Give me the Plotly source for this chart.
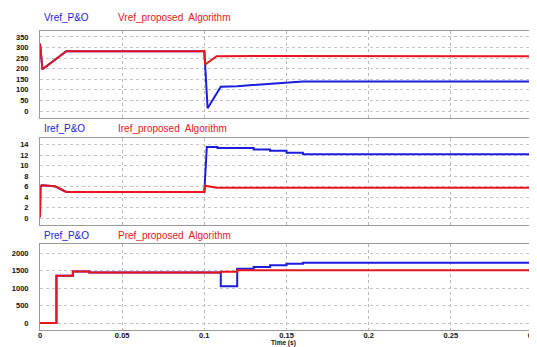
import plotly.graph_objects as go

# ---------------- data ----------------
# Panel 1: Vref
vref_prop_t = [0, 0.0015, 0.016, 0.1, 0.1005, 0.1075, 0.14, 0.3]
vref_prop_v = [318, 197, 282, 282, 220, 259, 260, 259]
vref_po_t = [0, 0.0015, 0.016, 0.1, 0.102, 0.11, 0.12, 0.13, 0.14, 0.15, 0.155, 0.16, 0.3]
vref_po_v = [318, 197, 282, 282, 13, 115, 117, 122, 128, 133, 138, 140, 140]

# Panel 2: Iref
iref_prop_t = [0, 0.0003, 0.001, 0.009, 0.016, 0.1, 0.1005, 0.1075, 0.3]
iref_prop_v = [0.2, 6.0, 6.3, 6.1, 5.0, 5.0, 6.2, 5.8, 5.8]
iref_po_t = [0, 0.0003, 0.001, 0.009, 0.016, 0.1, 0.1015, 0.108, 0.108, 0.13, 0.13,
             0.14, 0.14, 0.15, 0.15, 0.16, 0.16, 0.3]
iref_po_v = [0.2, 6.0, 6.3, 6.1, 5.0, 5.0, 13.6, 13.6, 13.4, 13.4, 13.1,
             13.1, 12.85, 12.85, 12.5, 12.5, 12.2, 12.2]

# Panel 3: Pref (step signals)
pref_prop_t = [0, 0.01, 0.02, 0.03, 0.11, 0.12, 0.3]
pref_prop_v = [0, 1350, 1470, 1440, 1465, 1505, 1505]
pref_po_t = [0, 0.01, 0.02, 0.03, 0.11, 0.12, 0.13, 0.14, 0.15, 0.16, 0.3]
pref_po_v = [0, 1350, 1470, 1440, 1050, 1550, 1600, 1650, 1690, 1720, 1720]

x_ticks = [0, 0.05, 0.1, 0.15, 0.2, 0.25, 0.3]
x_ticklabels = ["0", "0.05", "0.1", "0.15", "0.2", "0.25", "0.3"]
v_ticks = [0, 50, 100, 150, 200, 250, 300, 350]
i_ticks = [0, 2, 4, 6, 8, 10, 12, 14]
p_ticks = [0, 500, 1000, 1500, 2000]

titles = [("Vref_P&O", "Vref_proposed  Algorithm"),
          ("Iref_P&O", "Iref_proposed  Algorithm"),
          ("Pref_P&O", "Pref_proposed  Algorithm")]

# ---------------- style ----------------
BLUE = "#1c1ce0"
RED = "#e8161c"
W, H = 537, 347
OFF = 8  # page body margin offset

def px(pix):
    return (pix - OFF) / W

def py(pix):
    return 1 - (pix - OFF) / H

x_dom = [px(40), px(533)]
panels = [  # (top px, bottom px) in reference pixels
    (31, 118), (138, 225), (244, 330)]
y_ranges = [[-33, 378], [-1.3, 15.3], [-200, 2257]]
y_ticks = [v_ticks, i_ticks, p_ticks]
title_y = [17, 128, 235]

fig = go.Figure()
series = [
    (vref_po_t, vref_po_v, vref_prop_t, vref_prop_v, "linear"),
    (iref_po_t, iref_po_v, iref_prop_t, iref_prop_v, "linear"),
    (pref_po_t, pref_po_v, pref_prop_t, pref_prop_v, "hv"),
]
for k, (bt, bv, rt, rv, shape) in enumerate(series):
    xa = "x" if k == 0 else f"x{k+1}"
    ya = "y" if k == 0 else f"y{k+1}"
    fig.add_trace(go.Scatter(x=bt, y=bv, mode="lines", line=dict(color=BLUE, width=2, shape=shape),
                             xaxis=xa, yaxis=ya, showlegend=False))
    fig.add_trace(go.Scatter(x=rt, y=rv, mode="lines", line=dict(color=RED, width=2, shape=shape),
                             xaxis=xa, yaxis=ya, showlegend=False))

tickfont = dict(family="Liberation Sans, Arial", size=7.5, color="#111111", weight="bold")
layout = dict(width=W, height=H, margin=dict(l=0, r=0, t=0, b=0, autoexpand=False),
              paper_bgcolor="white", plot_bgcolor="white", showlegend=False)
for k in range(3):
    top, bot = panels[k]
    xkey = "xaxis" if k == 0 else f"xaxis{k+1}"
    ykey = "yaxis" if k == 0 else f"yaxis{k+1}"
    ya = "y" if k == 0 else f"y{k+1}"
    layout[xkey] = dict(domain=x_dom, range=[0, 0.3], anchor=ya,
                        tickvals=x_ticks, ticktext=x_ticklabels,
                        showticklabels=(k == 2), tickfont=tickfont,
                        showgrid=True, gridcolor="#b8b8b8", griddash="dot", gridwidth=1,
                        showline=True, linecolor="#9a9a9a", linewidth=1, mirror=True,
                        zeroline=False, ticks="", ticklabelstandoff=-2, automargin=False,
                        **({} if k == 0 else {"matches": "x"}))
    layout[ykey] = dict(domain=[py(bot), py(top)], range=y_ranges[k], anchor="x" if k == 0 else f"x{k+1}",
                        tickvals=y_ticks[k], tickfont=tickfont,
                        showgrid=True, gridcolor="#c4c4c4", griddash="dot", gridwidth=1,
                        showline=True, linecolor="#9a9a9a", linewidth=1, mirror=True,
                        zeroline=False, ticks="", ticklabelstandoff=9, automargin=False)
fig.update_layout(**layout)

tfont = dict(family="Liberation Sans, Arial", size=10)
for k, (a, b) in enumerate(titles):
    fig.add_annotation(x=px(42), y=py(title_y[k]), xref="paper", yref="paper", text=a,
                       showarrow=False, xanchor="left", yanchor="middle",
                       font=dict(color=BLUE, **tfont))
    fig.add_annotation(x=px(116), y=py(title_y[k]), xref="paper", yref="paper", text=b,
                       showarrow=False, xanchor="left", yanchor="middle",
                       font=dict(color=RED, **tfont))

fig.add_annotation(x=px(283), y=py(348), xref="paper", yref="paper", text="Time (s)",
                   showarrow=False, xanchor="center", yanchor="bottom", borderpad=0,
                   font=dict(family="Liberation Sans, Arial", size=6.5, color="#111111", weight="bold"))

# small red marker at top-right of the current panel
fig.add_shape(type="rect", xref="paper", yref="paper",
              x0=px(529), x1=px(534), y0=py(133), y1=py(129),
              fillcolor=RED, line=dict(width=0))

fig.write_html("out.html")
